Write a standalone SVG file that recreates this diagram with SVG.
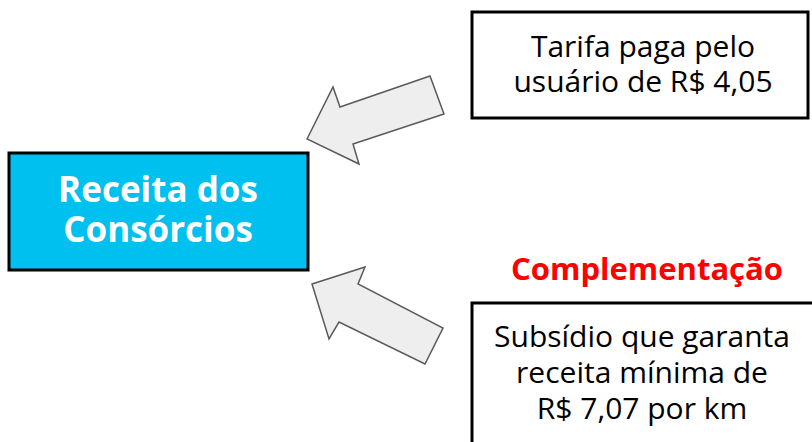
<svg xmlns="http://www.w3.org/2000/svg" width="812" height="442" viewBox="0 0 812 442">
<style>
.box{fill:#ffffff;stroke:#000000;stroke-width:3}
.main{fill:#00c0f0;stroke:#000000;stroke-width:3}
.arrow{fill:#eeeeee;stroke:#595959;stroke-width:1.5;stroke-linejoin:miter}
.t{font-family:"Open Sans","DejaVu Sans",sans-serif;font-size:30px;fill:#000000;text-anchor:middle}
.tb{font-family:"Open Sans","DejaVu Sans",sans-serif;font-weight:bold;font-size:35px;fill:#ffffff;text-anchor:middle}
.red{font-family:"Open Sans","DejaVu Sans",sans-serif;font-weight:bold;font-size:31px;fill:#ff0000;text-anchor:middle}
</style>
<rect width="812" height="442" fill="#ffffff"/>
<g id="connectors">
<polygon class="arrow" points="307,139 333,87 340,107 430,76 444,114 353,144 359,164"/>
<polygon class="arrow" points="312,284 365,267 358,284 443,328 425,364 339,322 329,339"/>
</g>
<g id="receita">
<rect class="main" x="9" y="153" width="299" height="117"/>
<text class="tb" x="158" y="202">Receita dos</text>
<text class="tb" x="158" y="242">Consórcios</text>
</g>
<g id="tarifa">
<rect class="box" x="472" y="12" width="336" height="106"/>
<text class="t" x="643" y="57">Tarifa paga pelo</text>
<text class="t" x="643" y="92">usuário de R$ 4,05</text>
</g>
<g id="complementacao">
<text class="red" x="647" y="280">Complementação</text>
</g>
<g id="subsidio">
<rect class="box" x="472" y="303" width="360" height="160"/>
<text class="t" x="642" y="347">Subsídio que garanta</text>
<text class="t" x="642" y="383">receita mínima de</text>
<text class="t" x="642" y="419">R$ 7,07 por km</text>
</g>
</svg>
